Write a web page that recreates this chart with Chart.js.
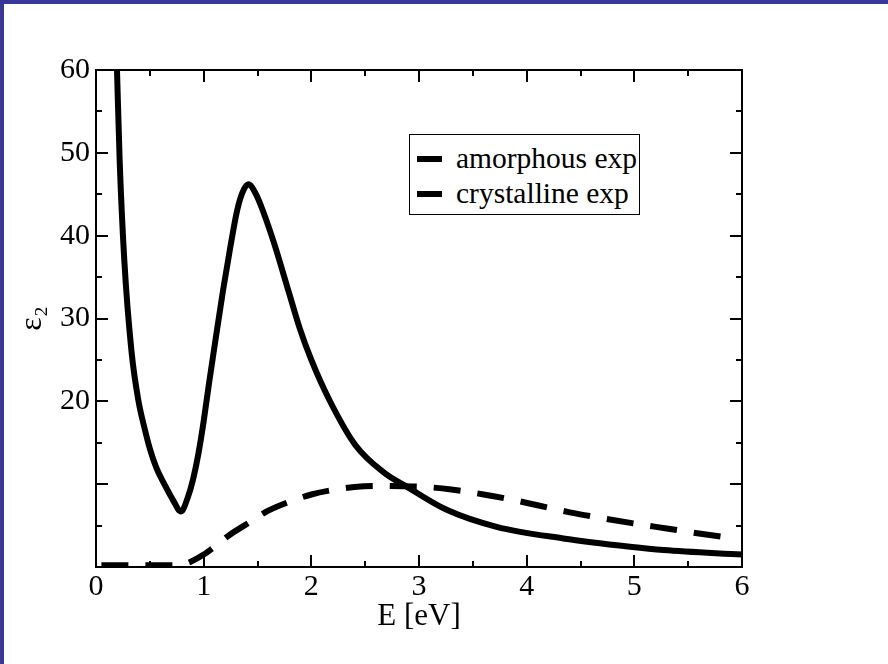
<!DOCTYPE html>
<html>
<head>
<meta charset="utf-8">
<script src="https://cdn.jsdelivr.net/npm/chart.js@4.4.0/dist/chart.umd.min.js"></script>
<style>
  html, body { margin: 0; padding: 0; background: #fff; }
  #frame {
    position: relative;
    width: 888px; height: 664px;
    box-sizing: border-box;
    border-top: 4px solid #38389a;
    border-left: 4px solid #38389a;
  }
  #chart { display: block; }
  #legend {
    position: absolute;
    left: 405px; top: 130px;
    width: 229px; height: 79px;
    border: 1.5px solid #000;
    background: #fff;
    font-family: 'Liberation Serif', 'Times New Roman', serif;
    font-size: 29.5px;
    color: #000;
  }
  .row {
    position: absolute;
    left: 7px; height: 30px;
    display: flex; align-items: center;
    white-space: nowrap;
  }
  .swatch { width: 25px; height: 6px; background: #000; margin-right: 14px; }
</style>
</head>
<body>
<div id="frame">
  <canvas id="chart" width="884" height="660"></canvas>
  <div id="legend"></div>
</div>
<script>
'use strict';

// #pragma Data

let seriesNames = ['amorphous exp', 'crystalline exp'];

// amorphous (solid curve)
let amorphE = [0.195, 0.22, 0.263, 0.33, 0.395, 0.45, 0.5, 0.56, 0.635, 0.71, 0.79, 0.85, 0.9,
  0.95, 1.0, 1.05, 1.105, 1.18, 1.25, 1.31, 1.36, 1.415, 1.486, 1.55, 1.656, 1.795, 1.89, 2.0,
  2.17, 2.41, 2.675, 2.886, 3.257, 3.72, 4.34, 4.96, 5.27, 6.0];
let amorphEps = [60, 49, 37, 26, 20, 16.8, 14.3, 12.0, 10, 8.2, 6.7, 8.3, 10.5,
  13.6, 17.6, 22.2, 27, 33.4, 38.8, 43, 45.2, 46.2, 45, 43, 39, 33, 28.9, 25,
  20.1, 14.7, 11.4, 9.7, 6.9, 4.85, 3.45, 2.45, 2.05, 1.5];

// crystalline (dashed curve)
let crystE = [0.05, 0.3, 0.6, 0.78, 0.88, 1.0, 1.1, 1.24, 1.44, 1.6, 1.8, 2.0, 2.2, 2.4,
  2.6, 2.85, 3.07, 3.3, 3.6, 3.85, 4.1, 4.4, 4.7, 5.0, 5.3, 5.6, 5.9];
let crystEps = [0.2, 0.2, 0.2, 0.25, 0.64, 1.5, 2.45, 3.86, 5.5, 6.8, 7.9, 8.75, 9.3, 9.65,
  9.78, 9.75, 9.65, 9.35, 8.76, 8.16, 7.45, 6.6, 5.9, 5.25, 4.65, 4.05, 3.5];

let xMin = 0;
let xMax = 6;
let yMin = 0;
let yMax = 60;
let yLabeled = [20, 30, 40, 50, 60];

// #pragma Helpers

function toPoints(xs, ys) {
  let pts = [];
  for (let i = 0; i < xs.length; i++) {
    pts.push({ x: xs[i], y: ys[i] });
  }
  return pts;
}

let serif = "'Liberation Serif', 'Times New Roman', serif";

// frame + inward major/minor ticks on all four sides
let frameTicks = {
  id: 'frameTicks',
  afterDatasetsDraw(chart) {
    let ctx = chart.ctx;
    let a = chart.chartArea;
    let x = chart.scales.x;
    let y = chart.scales.y;
    ctx.save();
    ctx.strokeStyle = '#000';
    ctx.lineWidth = 2;
    ctx.beginPath();
    for (let v = xMin; v <= xMax + 1e-9; v += 0.5) {
      let px = Math.round(x.getPixelForValue(v));
      let len = Math.abs(v - Math.round(v)) < 1e-9 ? 12 : 6;
      ctx.moveTo(px, a.bottom); ctx.lineTo(px, a.bottom - len);
      ctx.moveTo(px, a.top); ctx.lineTo(px, a.top + len);
    }
    for (let v = yMin; v <= yMax + 1e-9; v += 5) {
      let py = Math.round(y.getPixelForValue(v));
      let len = v % 10 === 0 ? 12 : 6;
      ctx.moveTo(a.left, py); ctx.lineTo(a.left + len, py);
      ctx.moveTo(a.right, py); ctx.lineTo(a.right - len, py);
    }
    ctx.stroke();
    ctx.strokeRect(a.left, a.top, a.right - a.left, a.bottom - a.top);
    ctx.restore();
  }
};

// #pragma Chart

let chartContext = document.getElementById('chart').getContext('2d');

let chartConfig = {
  type: 'line',
  data: {
    datasets: [{
      label: seriesNames[0],
      data: toPoints(amorphE, amorphEps),
      borderColor: '#000',
      borderWidth: 6,
      pointRadius: 0,
      cubicInterpolationMode: 'monotone',
      borderJoinStyle: 'round',
    }, {
      label: seriesNames[1],
      data: toPoints(crystE, crystEps),
      borderColor: '#000',
      borderWidth: 6,
      borderDash: [27, 17],
      borderCapStyle: 'butt',
      pointRadius: 0,
      cubicInterpolationMode: 'monotone',
    }],
  },
  options: {
    responsive: false,
    animation: false,
    events: [],
    layout: { padding: { top: 66, right: 146, bottom: 0, left: 0 } },
    plugins: {
      legend: { display: false },
      tooltip: { enabled: false },
    },
    scales: {
      x: {
        type: 'linear',
        min: xMin,
        max: xMax,
        grid: { display: false, drawTicks: false },
        border: { display: false },
        ticks: {
          stepSize: 1,
          padding: 2,
          color: '#000',
          font: { family: serif, size: 30 },
        },
        title: {
          display: true,
          text: 'E [eV]',
          color: '#000',
          font: { family: serif, size: 31 },
          padding: { top: 0, bottom: 29 },
        },
        afterFit(scale) { scale.height = 97; },
      },
      y: {
        type: 'linear',
        min: yMin,
        max: yMax,
        grid: { display: false, drawTicks: false },
        border: { display: false },
        ticks: {
          stepSize: 10,
          padding: 6,
          color: '#000',
          font: { family: serif, size: 30 },
          callback: (v) => (yLabeled.includes(v) ? String(v) : ''),
        },
        title: {
          display: true,
          text: 'ε₂',
          color: '#000',
          font: { family: serif, size: 32 },
          padding: { top: 9, bottom: 0 },
        },
        afterFit(scale) { scale.width = 92; },
      },
    },
  },
  plugins: [frameTicks],
};

let myChart = new Chart(chartContext, chartConfig);

// legend built from the chart's own datasets
let legendBox = document.getElementById('legend');
let rowCenters = [23.5, 58.5];
myChart.data.datasets.forEach((ds, i) => {
  let row = document.createElement('div');
  row.className = 'row';
  row.style.top = (rowCenters[i] - 15) + 'px';
  let sw = document.createElement('span');
  sw.className = 'swatch';
  let txt = document.createElement('span');
  txt.textContent = ds.label;
  row.appendChild(sw);
  row.appendChild(txt);
  legendBox.appendChild(row);
});
</script>
</body>
</html>
